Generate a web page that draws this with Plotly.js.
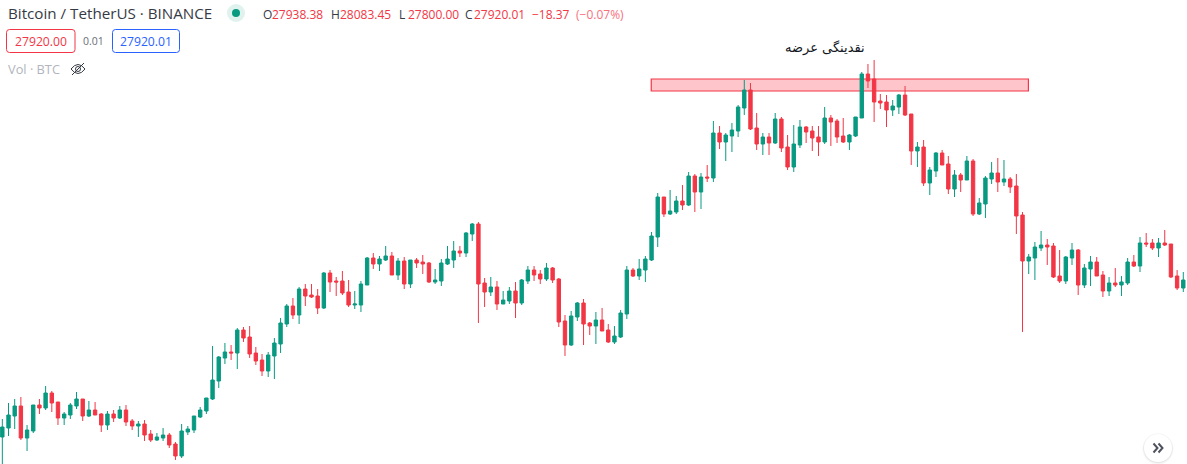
<!DOCTYPE html>
<html>
<head>
<meta charset="utf-8">
<script src="https://cdn.plot.ly/plotly-3.0.1.min.js"></script>
<style>html,body{margin:0;padding:0;background:#fff}#chart{width:1187px;height:464px}</style>
</head>
<body>
<div id="chart"></div>
<script>
// Chart points (price axis is hidden in the reference).
const open = [
27,36,48,58,26,33,59,56,71,62,
46,49,58,65,48,54,50,39,50,46,
54,43,38,40,30,24,26,29,20,8,
32,34,47,53,65,83,106,112,111,134,
127,111,104,93,108,120,140,158,149,175,
169,168,156,191,183,183,172,159,159,179,
206,200,204,208,189,203,180,204,202,201,
182,183,200,204,213,211,230,240,181,172,
177,160,163,173,161,183,194,190,185,196,
185,143,119,147,161,141,138,144,134,122,
127,150,194,188,194,204,227,267,250,252,
263,259,288,272,287,286,331,322,328,333,
356,374,336,320,327,321,345,317,297,319,
337,333,327,322,346,343,328,322,328,346,
390,385,363,362,354,357,369,350,313,317,
281,293,311,300,275,289,284,303,250,260,
285,291,282,285,278,249,203,206,216,219,
218,188,183,206,214,179,195,202,189,173,
181,179,181,202,198,221,221,216,221,220,
188,176];
const high = [
45,61,65,67,39,59,65,78,73,62,
52,61,72,65,63,62,51,53,54,58,
59,45,43,44,34,31,36,31,22,40,
38,48,57,66,118,108,121,119,136,137,
138,117,110,112,126,146,160,166,177,180,
180,175,192,194,187,193,184,173,183,207,
211,208,218,212,206,207,204,206,209,202,
195,205,218,223,218,232,241,242,186,187,
183,173,177,182,185,198,198,194,201,197,
186,149,153,162,165,142,152,156,140,138,
154,198,196,205,208,232,271,267,274,268,
279,292,290,291,299,343,338,331,341,359,
384,381,351,331,331,351,347,329,339,344,
338,338,338,357,349,345,346,330,347,392,
400,404,370,369,364,370,378,350,322,324,
297,312,314,308,294,291,308,305,266,288,
302,306,304,287,290,252,210,222,233,225,
221,214,208,221,215,200,208,207,193,187,
196,188,206,209,227,231,225,226,234,220,
194,192];
const low = [
0,28,35,24,13,31,50,54,52,39,
39,45,55,43,47,49,32,34,42,45,
38,34,27,23,22,23,23,16,4,6,
29,31,46,50,64,76,100,104,95,122,
106,99,88,87,85,111,137,145,140,158,
166,150,155,172,168,169,157,155,152,179,
195,193,203,189,184,175,176,196,190,181,
180,178,199,196,207,207,223,141,157,168,
154,160,160,146,159,180,183,180,183,181,
137,108,118,143,119,129,120,133,121,120,
126,145,187,184,182,203,217,247,249,250,
254,258,252,255,282,282,315,303,312,327,
349,334,314,309,309,320,312,294,292,316,
321,313,308,320,318,321,321,314,327,346,
376,342,355,337,348,350,348,299,297,278,
269,287,299,270,267,272,284,248,249,246,
280,272,278,271,230,132,190,184,213,199,
186,181,180,199,169,176,178,188,167,168,
177,168,179,197,192,217,214,207,218,186,
174,172];
const close = [
37,49,58,26,34,59,56,71,61,46,
50,59,65,48,54,49,39,50,46,54,
42,38,40,29,24,27,29,19,8,33,
35,48,54,66,84,107,112,111,134,126,
110,103,93,109,121,141,158,149,175,168,
167,156,191,182,182,171,159,160,180,206,
200,205,208,189,203,180,204,201,200,182,
184,201,205,213,211,231,240,180,172,177,
160,164,173,161,184,194,189,185,196,184,
142,119,148,161,140,138,144,133,122,128,
151,194,188,195,205,228,267,250,253,263,
259,288,272,287,286,331,322,329,334,357,
374,335,320,327,321,345,316,297,320,337,
332,326,322,346,342,327,322,329,347,390,
383,362,361,354,358,369,349,313,317,281,
294,311,299,275,289,284,303,250,261,286,
291,282,285,277,248,203,207,217,219,217,
187,183,207,214,179,196,202,188,173,181,
179,182,202,198,221,220,216,221,219,187,
176,184];
const bars = open.map((_, i) => i);

const symbolTitle = 'Bitcoin / TetherUS · BINANCE';
const bidText = '27920.00', spreadText = '0.01', askText = '27920.01';
const volText = 'Vol · BTC';
const zoneLabel = 'نقدینگی عرضه';
const zoneBars = [104.95, 165.95], zoneLevels = [373, 385];
const ohlcLegend = [
  ['O', '27938.38', 262], ['H', '28083.45', 330],
  ['L', '27800.00', 398], ['C', '27920.01', 464]
];

const UP = '#089981', DOWN = '#f23645', INK = '#363a45', FONT = 'Open Sans';
const px = x => x / 1187, py = y => 1 - y / 464;

function label(text, x, y, color, size, anchor) {
  return {text, xref: 'paper', yref: 'paper', x: px(x), y: py(y), showarrow: false,
    xanchor: anchor || 'left', yanchor: 'middle', borderpad: 0,
    font: {family: FONT, size: size, color}};
}
function paperPath(path, line, fill) {
  return {type: 'path', xref: 'paper', yref: 'paper', path, layer: 'above',
    line: line ? {color: line.color, width: line.width} : {width: 0},
    fillcolor: fill || 'rgba(0,0,0,0)'};
}
function circle(cx, cy, r, fill) {
  return {type: 'circle', xref: 'paper', yref: 'paper', layer: 'above',
    x0: px(cx - r), x1: px(cx + r), y0: py(cy + r), y1: py(cy - r),
    line: {width: 0}, fillcolor: fill};
}
function roundBox(x0, y0, x1, y1, r, color) {
  const d = `M${px(x0 + r)} ${py(y0)} L${px(x1 - r)} ${py(y0)} Q${px(x1)} ${py(y0)} ${px(x1)} ${py(y0 + r)} ` +
    `L${px(x1)} ${py(y1 - r)} Q${px(x1)} ${py(y1)} ${px(x1 - r)} ${py(y1)} L${px(x0 + r)} ${py(y1)} ` +
    `Q${px(x0)} ${py(y1)} ${px(x0)} ${py(y1 - r)} L${px(x0)} ${py(y0 + r)} Q${px(x0)} ${py(y0)} ${px(x0 + r)} ${py(y0)} Z`;
  return paperPath(d, {color, width: 1});
}
function polyline(pts, color, width) {
  const d = pts.map((p, i) => (i ? 'L' : 'M') + px(p[0]) + ' ' + py(p[1])).join(' ');
  return paperPath(d, {color, width});
}

const annotations = [
  label(symbolTitle, 6.5, 13.5, INK, 15.2),
  label(bidText, 40.5, 41, DOWN, 12.2, 'center'),
  label(spreadText, 93, 41, '#6a6d78', 10.5, 'center'),
  label(askText, 146, 41, '#2962ff', 12.2, 'center'),
  label(volText, 6.5, 69.5, '#b2b5be', 12.8),
  label('−18.37', 531, 14.5, DOWN, 12),
  label('(−0.07%)', 575, 14.5, '#f7707d', 12),
  {text: zoneLabel, xref: 'paper', yref: 'paper', x: px(825), y: py(48), showarrow: false,
   xanchor: 'center', yanchor: 'middle', font: {family: 'DejaVu Sans', size: 13, color: '#131722'}}
];
ohlcLegend.forEach(([k, v, x]) => {
  annotations.push(label(k, x, 14.5, INK, 12));
  annotations.push(label(v, x + 9, 14.5, DOWN, 12));
});

const shapes = [
  {type: 'rect', xref: 'x', yref: 'y', x0: zoneBars[0], x1: zoneBars[1],
   y0: zoneLevels[0], y1: zoneLevels[1], layer: 'below',
   line: {color: DOWN, width: 1.2}, fillcolor: '#fec5cb'},
  circle(236, 13, 9, '#dff2ee'),
  circle(236, 13, 4, UP),
  roundBox(6.5, 29.5, 75, 52.5, 3, DOWN),
  roundBox(112.5, 29.5, 179.5, 52.5, 3, '#2962ff'),
  // hidden-volume eye icon
  paperPath(`M${px(71)} ${py(69)} Q${px(78)} ${py(60)} ${px(85)} ${py(69)} Q${px(78)} ${py(78)} ${px(71)} ${py(69)} Z`, {color: '#363a45', width: 1}),
  paperPath(`M${px(75.5)} ${py(69)} Q${px(75.5)} ${py(66.5)} ${px(78)} ${py(66.5)} Q${px(80.5)} ${py(66.5)} ${px(80.5)} ${py(69)} Q${px(80.5)} ${py(71.5)} ${px(78)} ${py(71.5)} Q${px(75.5)} ${py(71.5)} ${px(75.5)} ${py(69)} Z`, {color: '#363a45', width: 1}),
  polyline([[72, 75], [84, 63]], '#363a45', 1),
  // scroll-to-latest button
  circle(1158, 449, 16, 'rgba(19,23,34,0.012)'),
  circle(1158, 449, 15.5, 'rgba(19,23,34,0.02)'),
  circle(1158, 448.5, 15, 'rgba(19,23,34,0.03)'),
  circle(1158, 448.5, 14.5, 'rgba(19,23,34,0.04)'),
  circle(1158, 448, 14, '#ffffff'),
  polyline([[1153.5, 443.5], [1157.5, 448], [1153.5, 452.5]], '#50535e', 2),
  polyline([[1158.5, 443.5], [1162.5, 448], [1158.5, 452.5]], '#50535e', 2)
];

const trace = {
  type: 'candlestick', x: bars, open, high, low, close,
  increasing: {line: {color: UP, width: 1}, fillcolor: UP},
  decreasing: {line: {color: DOWN, width: 1}, fillcolor: DOWN},
  whiskerwidth: 0, hoverinfo: 'skip'
};
const hiddenAxis = {visible: false, showgrid: false, zeroline: false, fixedrange: true};
const layout = {
  width: 1187, height: 464,
  margin: {l: 0, r: 0, t: 0, b: 0, pad: 0},
  paper_bgcolor: '#ffffff', plot_bgcolor: '#ffffff',
  showlegend: false, boxgap: 0.22, hovermode: false,
  xaxis: Object.assign({range: [-0.377, 191.6], rangeslider: {visible: false}, type: 'linear'}, hiddenAxis),
  yaxis: Object.assign({range: [0, 464], type: 'linear'}, hiddenAxis),
  annotations, shapes
};
Plotly.newPlot('chart', [trace], layout, {staticPlot: true, displayModeBar: false});
</script>
</body>
</html>
